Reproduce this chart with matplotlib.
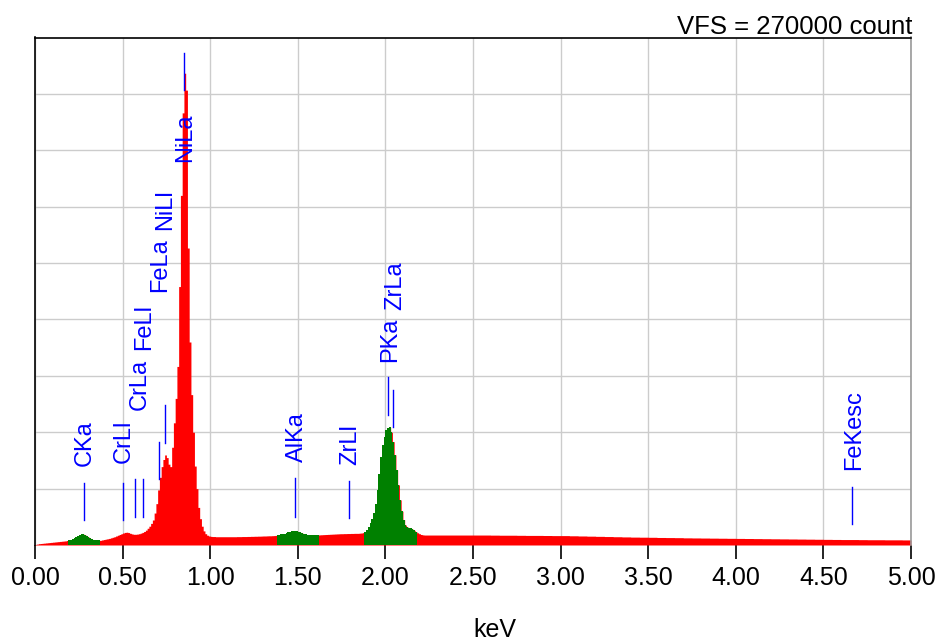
import numpy as np
import matplotlib
matplotlib.use("Agg")
import matplotlib.pyplot as plt

# ---- spectrum data -------------------------------------------------------
# fine channels, 10 eV wide, starting at 0.00 keV
fine_step = 0.01
fine_counts = [
    # 0.00 - 0.18
    300, 500, 700, 800, 900, 1000, 1100, 1200, 1300, 1400,
    1500, 1600, 1700, 1800, 1900, 2000, 2100, 2200, 2400,
    # 0.19 - 0.36  (C Ka)
    2600, 2800, 3100, 3500, 4100, 4800, 5400, 5700, 5800, 5500,
    4900, 4200, 3500, 3000, 2700, 2500, 2400, 2400,
    # 0.37 - 0.47
    2500, 2700, 2900, 3100, 3300, 3500, 3800, 4100, 4400, 4800, 5200,
    # 0.48 - 0.56  (Cr Ll)
    5600, 6000, 6400, 6700, 6800, 6600, 6200, 5900, 5700,
    # 0.57 - 0.66
    5700, 5800, 6000, 6300, 6700, 7200, 7900, 8900, 10000, 11500,
    # 0.67 - 0.79  (Fe La / Ni Ll shoulder)
    13300, 17000, 22000, 29300, 36000, 41700, 45500, 47900, 46500, 43000,
    41700, 52000, 65000,
    # 0.80 - 0.99  (Ni La)
    78000, 95000, 137500, 186000, 229900, 251000, 242000, 158000, 108000, 80000,
    60000, 42000, 30000, 20000, 14000, 10000, 7500, 6000, 5200, 4800,
    # 1.00 - 1.37
    4600, 4500, 4500, 4400, 4400, 4400, 4400, 4400, 4400, 4400,
    4400, 4400, 4400, 4400, 4400, 4450, 4450, 4450, 4500, 4500,
    4500, 4550, 4550, 4600, 4600, 4650, 4650, 4700, 4700, 4750,
    4800, 4800, 4850, 4900, 4900, 4950, 5000, 5100,
    # 1.38 - 1.61  (Al Ka)
    5200, 5400, 5600, 5800, 6100, 6400, 6800, 7100, 7300, 7450,
    7450, 7300, 7000, 6700, 6300, 6000, 5700, 5500, 5400, 5300,
    5300, 5300, 5300, 5300,
    # 1.62 - 1.87
    5400, 5450, 5500, 5550, 5600, 5650, 5700, 5750, 5800, 5850,
    5900, 5950, 6000, 6000, 6050, 6050, 6100, 6100, 6150, 6150,
    6200, 6200, 6200, 6300, 6400, 6600,
    # 1.88 - 2.17  (P Ka / Zr La)
    7000, 8000, 9500, 11700, 14000, 17000, 22000, 29300, 38000, 47000,
    53000, 57700, 61000, 62500, 62700, 60000, 55000, 48000, 40000, 32000,
    24000, 18000, 13500, 10600, 9600, 9200, 8900, 8400, 7800, 7100,
    # 2.18 - 2.29
    6500, 6000, 5600, 5400, 5300, 5300, 5300, 5300, 5300, 5300, 5300, 5300,
]

# coarse channels, 50 eV wide, from 2.30 keV to 5.00 keV
coarse_start = 2.30
coarse_step = 0.05
coarse_counts = [
    5300, 5300, 5300, 5300, 5300, 5300, 5250, 5200, 5200, 5150,
    5100, 5100, 5050, 5000,
    5000, 4900, 4800, 4700, 4600, 4500, 4400, 4300, 4200, 4150,
    4100, 4000, 3950, 3900, 3800, 3750, 3700, 3650, 3600, 3550,
    3500, 3450, 3400, 3350, 3300, 3250, 3200, 3150, 3100, 3050,
    3000, 2950, 2900, 2900, 2850, 2800, 2800, 2750, 2750, 2700,
]

# regions of interest (keV), drawn in green
roi_ranges = [(0.19, 0.37), (1.38, 1.62), (1.88, 2.18)]

# identified lines
line_names = ["CKa", "CrLl", "CrLa", "FeLl", "FeLa", "NiLl", "NiLa",
              "AlKa", "ZrLl", "PKa", "ZrLa", "FeKesc"]
line_energies = [0.277, 0.500, 0.573, 0.615, 0.705, 0.743, 0.851,
                 1.486, 1.792, 2.013, 2.042, 4.662]

full_scale = 270000
x_ticks = [0.0, 0.5, 1.0, 1.5, 2.0, 2.5, 3.0, 3.5, 4.0, 4.5, 5.0]
x_tick_labels = ["0.00", "0.50", "1.00", "1.50", "2.00", "2.50",
                 "3.00", "3.50", "4.00", "4.50", "5.00"]

# ---- marker layout: (marker bottom, marker top, label x, label bottom) ----
marker_layout = {
    "CKa":    (13300, 33000, 0.285, 42100),
    "CrLl":   (13300, 33000, 0.505, 43700),
    "CrLa":   (14900, 35100, 0.600, 71900),
    "FeLl":   (14900, 35100, 0.625, 103800),
    "FeLa":   (35100, 54800, 0.715, 134700),
    "NiLl":   (54300, 74600, 0.745, 167700),
    "NiLa":   (242300, 262000, 0.858, 203900),
    "AlKa":   (14900, 35700, 1.497, 44200),
    "ZrLl":   (14400, 34100, 1.800, 42600),
    "PKa":    (69200, 89500, 2.027, 97400),
    "ZrLa":   (62800, 82500, 2.055, 125100),
    "FeKesc": (11200, 30900, 4.675, 39900),
}

plt.rcParams["font.family"] = ["Liberation Sans", "DejaVu Sans"]

fig = plt.figure(figsize=(9.41, 6.42), dpi=100)
ax = fig.add_axes([35 / 941, 1 - 545 / 642, (911 - 35) / 941, (545 - 37.5) / 642])

# channel edges for both segments
fine_edges = np.arange(len(fine_counts) + 1) * fine_step
coarse_edges = coarse_start + np.arange(len(coarse_counts) + 1) * coarse_step
edges = np.concatenate([fine_edges[:-1], coarse_edges])
counts = np.array(fine_counts + coarse_counts, dtype=float)
steps = np.append(counts, counts[-1])

red = "#ff0000"
green = "#008000"
ax.fill_between(edges, 0, steps, step="post", color=red, lw=0,
                antialiased=False, zorder=2)
for lo, hi in roi_ranges:
    idx = np.where((edges >= lo - 1e-9) & (edges <= hi + 1e-9))[0]
    ax.fill_between(edges[idx], 0, steps[idx], step="post", color=green,
                    lw=0, antialiased=False, zorder=3)

# line markers and labels
for name, energy in zip(line_names, line_energies):
    y0, y1, tx, ty = marker_layout[name]
    ax.plot([energy, energy], [y0, y1], color="#0000ff", lw=1.0, zorder=4)
    ax.text(tx, ty, name, rotation=90, ha="center", va="bottom",
            color="#0000ff", fontsize=17, zorder=5)

ax.set_xlim(0, 5)
ax.set_ylim(0, full_scale)
ax.set_xticks(x_ticks)
ax.set_xticklabels(x_tick_labels, fontsize=18)
ax.set_yticks(np.arange(0, full_scale + 1, 30000))
ax.tick_params(axis="y", length=0, labelleft=False)
ax.tick_params(axis="x", direction="out", length=10, width=1.2, pad=5,
               colors="black")

ax.grid(True, color="#cccccc", lw=1.0)
ax.set_axisbelow(True)

ax.spines["left"].set_color("black")
ax.spines["left"].set_linewidth(1.2)
ax.spines["top"].set_color("black")
ax.spines["top"].set_linewidth(1.2)
ax.spines["right"].set_color("#999999")
ax.spines["right"].set_linewidth(1.2)
ax.spines["bottom"].set_visible(False)

fig.text(912 / 941, 1 - 33.5 / 642, "VFS = 270000 count", ha="right",
         va="baseline", fontsize=18.5)
fig.text(495 / 941, 1 - 637 / 642, "keV", ha="center", va="baseline",
         fontsize=18)

fig.savefig("out.png", dpi=100)
